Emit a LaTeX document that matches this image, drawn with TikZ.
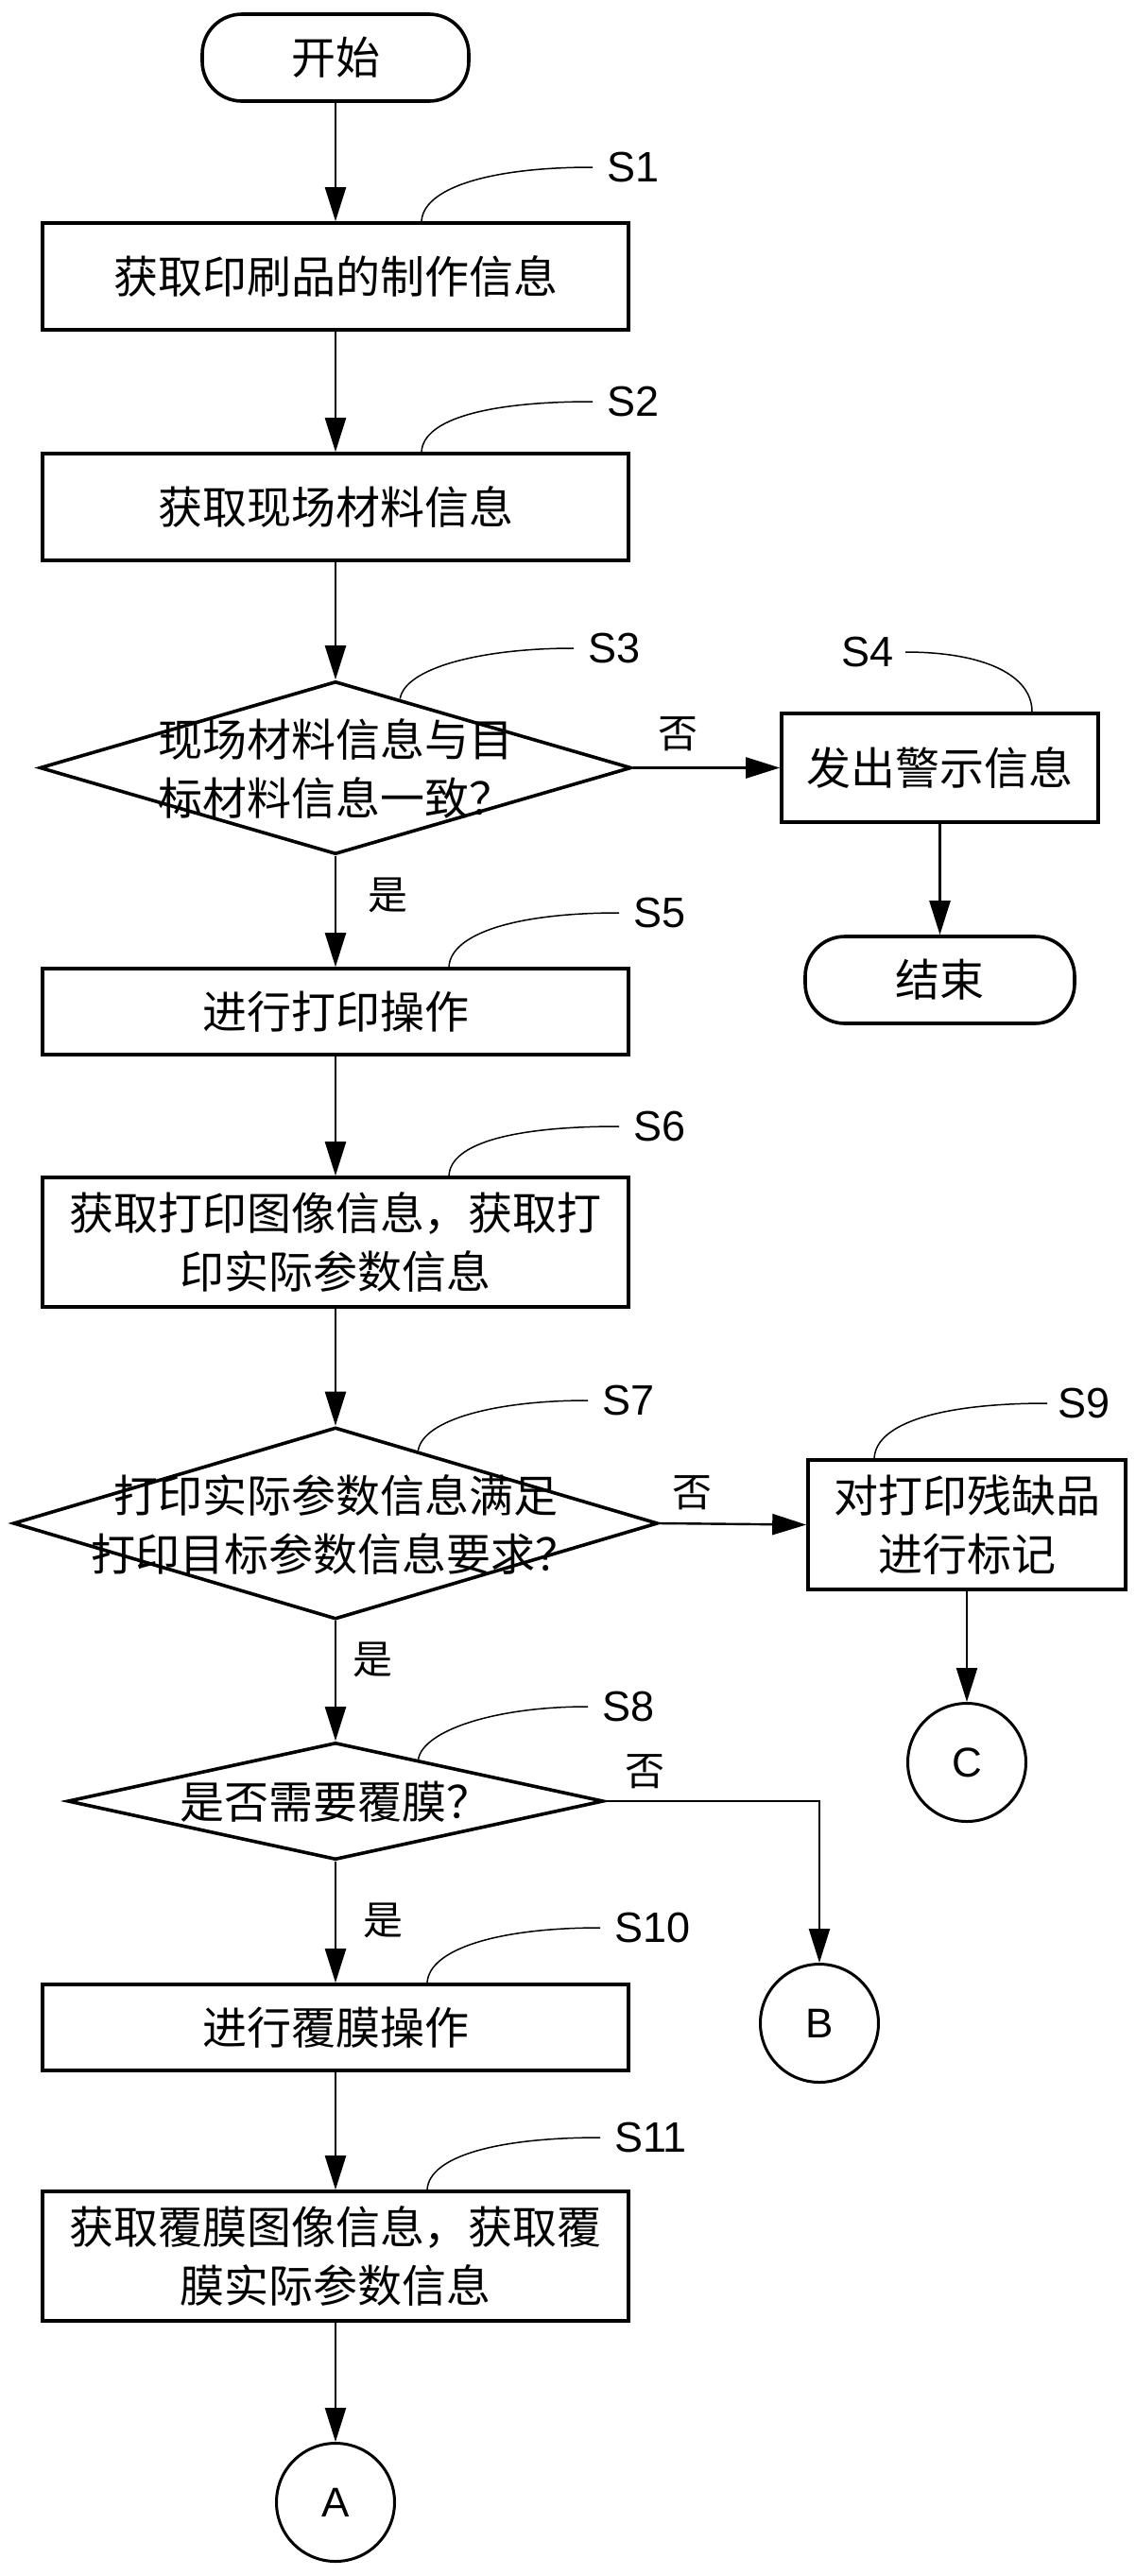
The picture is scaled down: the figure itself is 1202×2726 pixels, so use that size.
\documentclass[tikz,border=0pt]{standalone}
\usepackage{fontspec}
\setmainfont{Liberation Sans}
\newfontfamily\cjk{Noto Sans CJK SC}
\usetikzlibrary{arrows.meta,shapes.geometric,calc}
\begin{document}
\begin{tikzpicture}[x=1pt,y=-1pt,
  box/.style={draw,line width=3.6pt,minimum width=620pt,inner sep=0pt,
    font=\cjk\fontsize{47}{62}\selectfont,align=center},
  term/.style={draw,line width=3.6pt,rounded corners=42pt,minimum width=282pt,
    minimum height=92pt,inner sep=0pt,font=\cjk\fontsize{47}{62}\selectfont},
  dia/.style={draw,diamond,line width=3.6pt,inner sep=0pt},
  dtext/.style={inner sep=0pt,font=\cjk\fontsize{47}{62}\selectfont,align=center},
  conn/.style={draw,circle,line width=3pt,minimum size=125pt,inner sep=0pt,
    font=\fontsize{44}{44}\selectfont},
  lbl/.style={inner xsep=15pt,inner ysep=0pt,anchor=west,font=\fontsize{45}{45}\selectfont},
  yn/.style={inner sep=0pt,font=\cjk\fontsize{42}{42}\selectfont},
  arr/.style={line width=2.4pt,-{Triangle[length=36pt,width=22pt]}},
  lead/.style={line width=1.5pt}]
\useasboundingbox (0,0) rectangle (1202,2726);
\fill[white] (0,0) rectangle (1202,2726);

% nodes
\node[term] (start) at (355,61) {开始};
\node[box,minimum height=113pt] (s1) at (355,292.5) {获取印刷品的制作信息};
\node[box,minimum height=113pt] (s2) at (355,536.5) {获取现场材料信息};
\node[dia,minimum width=626pt,minimum height=183pt] (s3) at (355,812.5) {};
\node[dtext] (s3t) at (355,813) {现场材料信息与目\\标材料信息一致？};
\node[box,minimum width=335pt,minimum height=115pt] (s4) at (994.5,812.5) {发出警示信息};
\node[term,minimum width=285pt] (end) at (994.5,1037) {结束};
\node[box,minimum height=91pt] (s5) at (355,1070.5) {进行打印操作};
\node[box,minimum height=137pt] (s6) at (355,1314.5) {获取打印图像信息，获取打\\印实际参数信息};
\node[dia,minimum width=682pt,minimum height=203pt] (s7) at (355,1612) {};
\node[dtext] (s7t) at (355,1613) {打印实际参数信息满足\\打印目标参数信息要求？};
\node[box,minimum width=336pt,minimum height=137pt] (s9) at (1023,1613.5) {对打印残缺品\\进行标记};
\node[conn] (C) at (1023,1865) {C};
\node[dia,minimum width=567pt,minimum height=124pt] (s8) at (355,1906) {};
\node[dtext] (s8t) at (355,1907) {是否需要覆膜？};
\node[conn] (B) at (867,2141) {B};
\node[box,minimum height=91pt] (s10) at (355,2145.5) {进行覆膜操作};
\node[box,minimum height=137pt] (s11) at (355,2387.5) {获取覆膜图像信息，获取覆\\膜实际参数信息};
\node[conn] (A) at (355,2648) {A};

% step labels
\node[lbl] (l1) at (627,177) {S1};
\node[lbl] (l2) at (627,425) {S2};
\node[lbl] (l3) at (607,686) {S3};
\node[lbl,anchor=east,inner xsep=12pt] (l4) at (958,690) {S4};
\node[lbl] (l5) at (655,966) {S5};
\node[lbl] (l6) at (655,1192) {S6};
\node[lbl] (l7) at (622,1482) {S7};
\node[lbl,inner xsep=11pt] (l9) at (1108,1485) {S9};
\node[lbl] (l8) at (622,1806) {S8};
\node[lbl] (l10) at (635,2040) {S10};
\node[lbl] (l11) at (635,2262) {S11};

% leader curves
\draw[lead] ($(s1.north)+(91,0)$) .. controls +(2,-35) and +(-110,0) .. (l1.west);
\draw[lead] ($(s2.north)+(91,0)$) .. controls +(2,-35) and +(-110,0) .. (l2.west);
\draw[lead] ($(s3.north)!0.217!(s3.east)$) .. controls +(5,-32) and +(-100,0) .. (l3.west);
\draw[lead] (l4.east) .. controls +(85,0) and +(0,-38) .. ($(s4.north)+(97.5,0)$);
\draw[lead] ($(s5.north)+(120,0)$) .. controls +(2,-35) and +(-110,0) .. (l5.west);
\draw[lead] ($(s6.north)+(120,0)$) .. controls +(2,-35) and +(-110,0) .. (l6.west);
\draw[lead] ($(s7.north)!0.255!(s7.east)$) .. controls +(5,-32) and +(-100,0) .. (l7.west);
\draw[lead] ($(s9.north)+(-98,0)$) .. controls +(2,-38) and +(-110,0) .. (l9.west);
\draw[lead] ($(s8.north)!0.307!(s8.east)$) .. controls +(5,-30) and +(-100,0) .. (l8.west);
\draw[lead] ($(s10.north)+(97,0)$) .. controls +(2,-35) and +(-110,0) .. (l10.west);
\draw[lead] ($(s11.north)+(97,0)$) .. controls +(2,-35) and +(-110,0) .. (l11.west);

% connectors
\draw[arr] (start) -- (s1);
\draw[arr] (s1) -- (s2);
\draw[arr] (s2) -- (s3.north);
\draw[arr] (s3.east) -- (s4.west);
\draw[arr] (s3.south) -- (s5.north);
\draw[arr] (s4) -- (end);
\draw[arr] (s5) -- (s6);
\draw[arr] (s6) -- (s7.north);
\draw[arr] (s7.east) -- (s9.west);
\draw[arr] (s7.south) -- (s8.north);
\draw[arr] (s9) -- (C);
\draw[arr] (s8.east) -| (B.north);
\draw[arr] (s8.south) -- (s10.north);
\draw[arr] (s10) -- (s11);
\draw[arr] (s11) -- (A);

% yes/no labels
\node[yn] (n3) at (717,777) {否};
\node[yn] (y3) at (410,947) {是};
\node[yn] (n7) at (732,1580) {否};
\node[yn] (y7) at (394,1756) {是};
\node[yn] (n8) at (682,1875) {否};
\node[yn] (y8) at (405,2032) {是};
\end{tikzpicture}
\end{document}
